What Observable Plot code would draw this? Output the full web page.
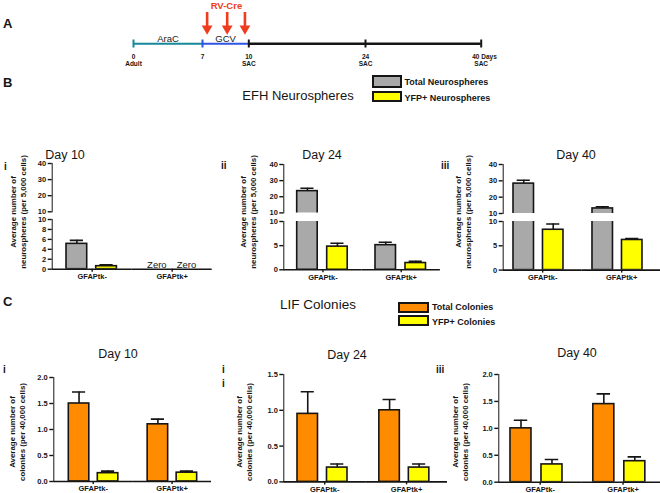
<!DOCTYPE html>
<html><head><meta charset="utf-8">
<script src="https://cdn.jsdelivr.net/npm/d3@7"></script>
<script src="https://cdn.jsdelivr.net/npm/@observablehq/plot@0.6"></script>
<style>
html,body{margin:0;padding:0;background:#fff;overflow:hidden;}
#root{position:relative;width:660px;height:493px;overflow:hidden;background:#fff;font-family:"Liberation Sans",Arial,Helvetica,sans-serif;color:#151515;}
#root svg{position:absolute;left:0;}
#root svg g[aria-label$="axis tick"]{stroke-width:1.4px;}
</style></head><body><div id="root"></div>
<script>
// ---------- data ----------
const timelineDays = [0, 7, 10, 24, 40];
const timelineLabels = ["0", "7", "10", "24", "40 Days"];
const timelineSubLabels = ["Adult", "", "SAC", "SAC", "SAC"];
const phaseNames = ["AraC", "GCV", ""];
const phaseStart = [0, 7, 10];
const phaseEnd = [7, 10, 40];
const injectionDays = [7.3, 8.6, 9.75];
const injectionLabel = "RV-Cre";

const groups = ["GFAPtk-", "GFAPtk+"];
const days = ["Day 10", "Day 24", "Day 40"];
const numerals = ["i", "ii", "iii"];
const efhSeries = ["Total Neurospheres", "YFP+ Neurospheres"];
const efhTotal = [[5.1, 0], [23.5, 5.1], [28.3, 13.1]];
const efhTotalErr = [[0.7, 0], [1.8, 0.6], [2.1, 1.0]];
const efhYfp = [[0.6, 0], [4.8, 1.4], [8.3, 6.2]];
const efhYfpErr = [[0.3, 0], [0.7, 0.35], [1.2, 0.3]];
const efhUpperTicks = [10, 20, 30, 40];
const efhLowerTicks = [[0, 2, 4, 6, 8, 10], [0, 5, 10], [0, 5, 10]];
const efhBreak = 10, efhMax = 40;

const lifSeries = ["Total Colonies", "YFP+ Colonies"];
const lifTotal = [[1.5, 1.1], [0.95, 1.0], [1.0, 1.45]];
const lifTotalErr = [[0.22, 0.1], [0.31, 0.15], [0.15, 0.19]];
const lifYfp = [[0.16, 0.17], [0.2, 0.2], [0.33, 0.39]];
const lifYfpErr = [[0.04, 0.03], [0.05, 0.05], [0.09, 0.08]];
const lifTicks = [[0, 0.5, 1, 1.5, 2], [0, 0.5, 1, 1.5], [0, 0.5, 1, 1.5, 2]];
const lifMax = [2, 1.5, 2];

// ---------- styles / layout ----------
const INK = "#151515";
const FONT = "'Liberation Sans', Arial, Helvetica, sans-serif";
const efhColors = ["#a9a9a9", "#ffff00"];
const lifColors = ["#ff8c00", "#ffff00"];
const teal = "#17889a", blue = "#2f55e4", red = "#ee3d1e";
const root = document.getElementById("root");

function put(text, x, y, css = {}, anchor = "middle") {
  const el = document.createElement("div");
  el.textContent = text;
  Object.assign(el.style, {position: "absolute", left: x + "px", top: y + "px", whiteSpace: "nowrap", lineHeight: "1",
    transform: anchor === "middle" ? "translate(-50%,-50%)" : "translate(0,-50%)"}, css);
  root.appendChild(el);
  return el;
}
function yTitle(lines, x, y) {
  const el = document.createElement("div");
  lines.forEach(t => { const d = document.createElement("div"); d.textContent = t; el.appendChild(d); });
  Object.assign(el.style, {position: "absolute", left: x + "px", top: y + "px", whiteSpace: "nowrap", textAlign: "center",
    fontSize: "7.9px", fontWeight: "bold", lineHeight: "9.5px", transform: "translate(-50%,-50%) rotate(-90deg)"});
  root.appendChild(el);
}
function box(x, y, w, h, fill) {
  const el = document.createElement("div");
  Object.assign(el.style, {position: "absolute", left: x + "px", top: y + "px", width: w + "px", height: h + "px",
    boxSizing: "border-box", border: "2px solid " + INK, background: fill});
  root.appendChild(el);
}
const plotStyle = {background: "transparent", overflow: "visible", fontFamily: FONT, fontSize: "7.5px",
  fontWeight: "bold", color: INK, maxWidth: "none"};

// ---------- timeline (A) ----------
// schematic (non-uniform) day axis: piecewise mapping of days onto the drawing
const timelineRange = [133, 202, 248.3, 365, 480.7];
const dayScale = d3.scaleLinear().domain(timelineDays).range(timelineRange);
const TL = {line: 43.3, tickTop: 39.5, tickBot: 47.5, lab1: 56, lab2: 63.5, phaseText: 38.5, arrowTop: 12, arrowBot: 26, head: 28, title: 5};
const phases = phaseNames.map((n, i) => ({name: n, from: phaseStart[i], to: phaseEnd[i]}));
const phaseColor = d => d.name === "AraC" ? teal : d.name === "GCV" ? blue : INK;
const dayColor = d => d < 7 ? teal : d < 10 ? blue : INK;
const timeline = Plot.plot({
  width: 660, height: 70, margin: 0, style: plotStyle,
  x: {type: "linear", domain: [0, 660], range: [0, 660], transform: dayScale, axis: null},
  y: {domain: [0, 70], range: [0, 70], axis: null},
  marks: [
    Plot.ruleY(phases, {x1: "from", x2: "to", y: TL.line, stroke: phaseColor, strokeWidth: d => d.name ? 2 : 2.6}),
    Plot.ruleX(timelineDays, {x: d => d, y1: TL.tickTop, y2: TL.tickBot, stroke: dayColor, strokeWidth: 2}),
    Plot.text(timelineDays.slice(0, 4), {x: d => d, y: TL.lab1, text: (d, i) => timelineLabels[i], fontSize: 6.5, fontWeight: "bold", fill: INK}),
    Plot.text(timelineDays.slice(4), {x: d => d, y: TL.lab1, text: () => timelineLabels[4], textAnchor: "start", dx: -9, fontSize: 6.5, fontWeight: "bold", fill: INK}),
    Plot.text(timelineDays, {x: d => d, y: TL.lab2, text: (d, i) => timelineSubLabels[i], fontSize: 6.5, fontWeight: "bold", fill: INK}),
    Plot.text(phases.filter(d => d.name), {x: d => (d.from + d.to) / 2, y: TL.phaseText, text: "name", fontSize: 9.5, fontWeight: "normal", fill: "#222"}),
    Plot.ruleX(injectionDays, {x: d => d, y1: TL.arrowTop, y2: TL.arrowBot, stroke: red, strokeWidth: 2.6}),
    Plot.dot(injectionDays, {x: d => d, y: TL.head, symbol: "triangle", rotate: 180, r: 4, fill: red, stroke: "none"}),
    Plot.text([d3.mean(injectionDays)], {x: d => d, y: TL.title, text: () => injectionLabel, fill: red, fontWeight: "bold", fontSize: 9.5})
  ]
});
timeline.style.top = "0px";
root.appendChild(timeline);

// ---------- bar panel builder ----------
function barPanel(rows, keys, colors, o) {
  const gw = (o.fxEnd - o.axisX) / 2;
  const pi = 1 - o.bw / o.step;
  const po = Math.max(0, (gw / o.step - 2 + pi) / 2);
  const align = Math.min(1, Math.max(0, o.offset / (gw - o.step * (2 - pi))));
  const mt = 8, mb = o.showFx ? 22 : 8;
  const width = Math.ceil(o.fxEnd) + 2;
  const height = (o.bottom - o.top) + mt + mb;
  const sw = 1.6;
  const withErr = rows.filter(d => d.err > 0);
  const marks = [
    Plot.barY(rows.filter(d => d.value > 0), {fx: "group", x: "series", y: "value", fill: "series", stroke: INK, strokeWidth: sw, clip: true}),
    Plot.ruleX(withErr, {fx: "group", x: "series", y1: "value", y2: d => d.value + d.err, stroke: INK, strokeWidth: sw, clip: true}),
    Plot.tickY(withErr, {fx: "group", x: "series", y: d => d.value + d.err, stroke: INK, strokeWidth: sw, insetLeft: o.bw * 0.18, insetRight: o.bw * 0.18, clip: true})
  ];
  if (o.showFx) {
    marks.push(Plot.ruleY([0], {stroke: INK, strokeWidth: sw}));
    const zeros = rows.filter(d => d.value === 0);
    if (zeros.length) marks.push(Plot.text(zeros, {fx: "group", x: "series", y: 0, text: () => "Zero", lineAnchor: "bottom", dy: -1, fontSize: 9.5, fontWeight: "normal", fill: INK}));
  }
  const svg = Plot.plot({
    width, height, marginLeft: o.axisX, marginRight: width - o.fxEnd, marginTop: mt, marginBottom: mb,
    style: plotStyle,
    fx: {domain: groups, paddingInner: 0, paddingOuter: 0, round: false, axis: o.showFx ? "bottom" : null, tickSize: 3, tickPadding: 1.5, label: null},
    x: {domain: keys, paddingInner: pi, paddingOuter: po, align, round: false, axis: null},
    y: {domain: o.domain, ticks: o.ticks, tickFormat: o.tickFormat, tickSize: 4, tickPadding: 2, line: true, label: null},
    color: {domain: keys, range: colors},
    marks
  });
  svg.style.top = (o.top - mt) + "px";
  root.appendChild(svg);
}

// ---------- B: EFH neurospheres ----------
const layoutB = [
  {axisX: 51.7, fxEnd: 211.7, up: [162.7, 211], low: [219.3, 269], step: 29.7, bw: 20.7, offset: 14.3, title: [65, 154.5], num: [4, 167], yt: [17.5, 212]},
  {axisX: 283.3, fxEnd: 439.9, up: [164.3, 212.7], low: [220.7, 269], step: 30, bw: 20.5, offset: 13.4, title: [322, 154.5], num: [221, 166], yt: [247.5, 212]},
  {axisX: 502.7, fxEnd: 660.7, up: [164.3, 213.3], low: [220.7, 269.3], step: 29.5, bw: 20.5, offset: 10.3, title: [576, 154.5], num: [441, 166], yt: [462.5, 212]}
];
layoutB.forEach((L, p) => {
  const rows = groups.flatMap((g, i) => [
    {group: g, series: efhSeries[0], value: efhTotal[p][i], err: efhTotalErr[p][i]},
    {group: g, series: efhSeries[1], value: efhYfp[p][i], err: efhYfpErr[p][i]}
  ]);
  const common = {axisX: L.axisX, fxEnd: L.fxEnd, step: L.step, bw: L.bw, offset: L.offset};
  barPanel(rows, efhSeries, efhColors, {...common, top: L.up[0], bottom: L.up[1], domain: [efhBreak, efhMax], ticks: efhUpperTicks, showFx: false});
  barPanel(rows, efhSeries, efhColors, {...common, top: L.low[0], bottom: L.low[1], domain: [0, efhBreak], ticks: efhLowerTicks[p], showFx: true});
  put(days[p], L.title[0], L.title[1], {fontSize: "12.5px"});
  put(numerals[p], L.num[0], L.num[1], {fontSize: "10px", fontWeight: "bold"}, "start");
  yTitle(["Average number of", "neurospheres (per 5,000 cells)"], L.yt[0], L.yt[1]);
});

// ---------- C: LIF colonies ----------
const layoutC = [
  {axisX: 53.3, fxEnd: 211, top: 377.3, bottom: 481.3, step: 29, bw: 20.5, offset: 15, title: [118, 354], yt: [16.5, 432]},
  {axisX: 283.3, fxEnd: 447, top: 374.3, bottom: 481.7, step: 29.5, bw: 20.5, offset: 13.7, title: [347, 355], yt: [244, 432]},
  {axisX: 498.3, fxEnd: 664, top: 374, bottom: 481.7, step: 31, bw: 21, offset: 11.7, title: [577, 353], yt: [460, 432]}
];
layoutC.forEach((L, p) => {
  const rows = groups.flatMap((g, i) => [
    {group: g, series: lifSeries[0], value: lifTotal[p][i], err: lifTotalErr[p][i]},
    {group: g, series: lifSeries[1], value: lifYfp[p][i], err: lifYfpErr[p][i]}
  ]);
  barPanel(rows, lifSeries, lifColors, {axisX: L.axisX, fxEnd: L.fxEnd, step: L.step, bw: L.bw, offset: L.offset,
    top: L.top, bottom: L.bottom, domain: [0, lifMax[p]], ticks: lifTicks[p], tickFormat: d3.format(".1f"), showFx: true});
  put(days[p], L.title[0], L.title[1], {fontSize: "12.5px"});
  yTitle(["Average number of", "colonies (per 40,000 cells)"], L.yt[0], L.yt[1]);
});
put("i", 3, 370, {fontSize: "10px", fontWeight: "bold"}, "start");
put("i", 222, 370, {fontSize: "10px", fontWeight: "bold"}, "start");
put("i", 222, 384, {fontSize: "10px", fontWeight: "bold"}, "start");
put("iii", 436, 370, {fontSize: "10px", fontWeight: "bold"}, "start");

// ---------- section letters, titles, legends ----------
put("A", 3, 23, {fontSize: "13px", fontWeight: "bold"}, "start");
put("B", 3, 82, {fontSize: "13px", fontWeight: "bold"}, "start");
put("C", 3, 301, {fontSize: "13px", fontWeight: "bold"}, "start");
put("EFH Neurospheres", 298, 95, {fontSize: "13px"});
put("LIF Colonies", 318, 305, {fontSize: "13.5px"});

box(372, 75, 30, 12.5, efhColors[0]);
box(372, 90.5, 30, 11.5, efhColors[1]);
put(efhSeries[0], 404.5, 81.5, {fontSize: "9px", fontWeight: "bold"}, "start");
put(efhSeries[1], 404.5, 97.5, {fontSize: "9px", fontWeight: "bold"}, "start");

box(398, 302, 31, 10.5, lifColors[0]);
box(398, 315, 31, 10.5, lifColors[1]);
put(lifSeries[0], 432, 307, {fontSize: "9px", fontWeight: "bold"}, "start");
put(lifSeries[1], 432, 321.5, {fontSize: "9px", fontWeight: "bold"}, "start");
</script></body></html>
